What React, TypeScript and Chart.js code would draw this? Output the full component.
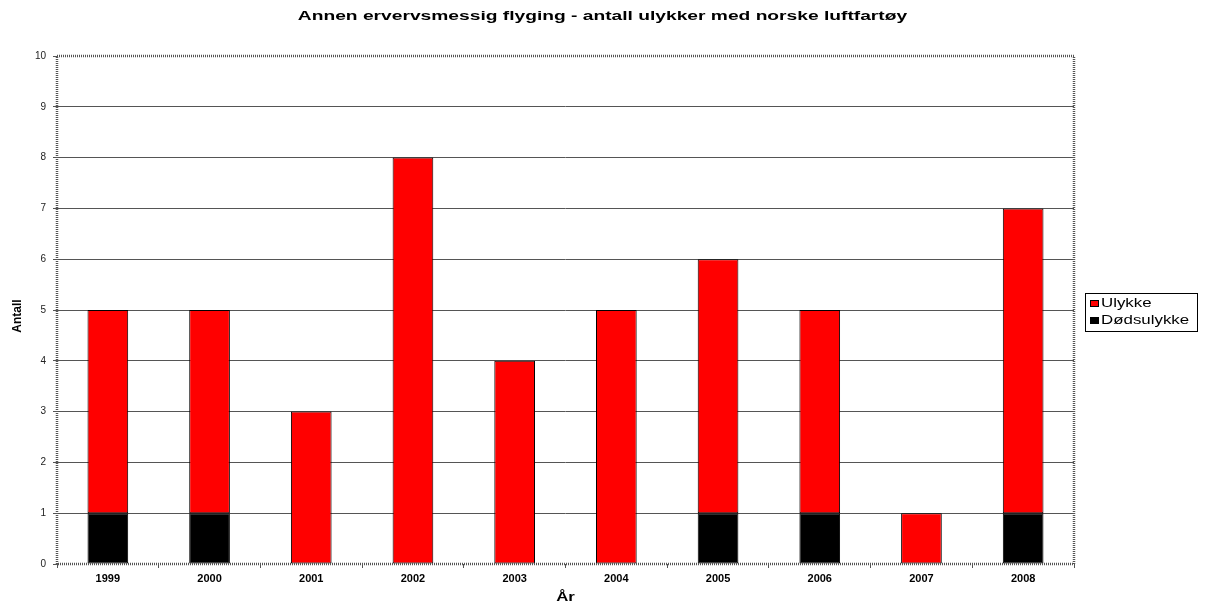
import React, { useEffect, useRef } from "react";
import { Chart, registerables } from "chart.js";

Chart.register(...registerables);

// Accident counts per year, Norwegian aircraft, other commercial flying
const years = ["1999", "2000", "2001", "2002", "2003", "2004", "2005", "2006", "2007", "2008"];
const ulykke = [4, 4, 3, 8, 4, 5, 5, 4, 1, 6];
const dodsulykke = [1, 1, 0, 0, 0, 0, 1, 1, 0, 1];
const yTicks = [0, 1, 2, 3, 4, 5, 6, 7, 8, 9, 10];

const chartTitle = "Annen ervervsmessig flyging - antall ulykker med norske luftfartøy";
const xTitle = "År";
const yTitle = "Antall";

const FONT = "'Liberation Sans', Arial, sans-serif";

// Draw text with a horizontal stretch factor
function stretchedText(
  ctx: CanvasRenderingContext2D,
  text: string,
  x: number,
  y: number,
  sx: number,
  font: string,
  align: CanvasTextAlign
) {
  ctx.save();
  ctx.font = font;
  ctx.fillStyle = "#000";
  ctx.textAlign = align;
  ctx.textBaseline = "middle";
  ctx.translate(x, y);
  ctx.scale(sx, 1);
  ctx.fillText(text, 0, 0);
  ctx.restore();
}

const decorPlugin = {
  id: "decor",
  afterDatasetsDraw(chart: any) {
    const { ctx, chartArea } = chart;
    const { left, right, top, bottom } = chartArea;
    // dotted frame around the plot area
    ctx.save();
    ctx.strokeStyle = "#555";
    ctx.lineWidth = 2.5;
    ctx.setLineDash([1, 1]);
    ctx.strokeRect(left, top, right - left, bottom - top);
    ctx.restore();
  },
  afterDraw(chart: any) {
    const { ctx, chartArea } = chart;
    const { left, right, top, bottom } = chartArea;

    // chart title
    stretchedText(ctx, chartTitle, chart.width / 2, 17, 1.6, `bold 12px ${FONT}`, "center");

    // axis titles
    stretchedText(ctx, xTitle, (left + right) / 2, 598, 1.4, `bold 12px ${FONT}`, "center");
    ctx.save();
    ctx.translate(18, (top + bottom) / 2 + 6);
    ctx.rotate(-Math.PI / 2);
    ctx.font = `bold 12px ${FONT}`;
    ctx.fillStyle = "#000";
    ctx.textAlign = "center";
    ctx.textBaseline = "middle";
    ctx.fillText(yTitle, 0, 0);
    ctx.restore();

    // legend (topmost stack segment listed first)
    const bx = 1085;
    const by = 293;
    const bw = 112;
    const bh = 38;
    ctx.save();
    ctx.fillStyle = "#fff";
    ctx.fillRect(bx, by, bw, bh);
    ctx.strokeStyle = "#000";
    ctx.lineWidth = 1;
    ctx.strokeRect(bx + 0.5, by + 0.5, bw, bh);
    ctx.restore();
    const items = chart.data.datasets.slice().reverse();
    items.forEach((ds: any, i: number) => {
      const cy = by + 10.5 + i * 17;
      ctx.save();
      ctx.fillStyle = ds.backgroundColor;
      ctx.fillRect(1090, cy - 3.5, 9, 7);
      ctx.strokeStyle = "#000";
      ctx.lineWidth = 1;
      ctx.strokeRect(1090.5, cy - 3, 8, 6);
      ctx.restore();
      stretchedText(ctx, ds.label, 1101, cy + 0.5, 1.35, `12.5px ${FONT}`, "left");
    });
  },
};

export default function App() {
  const ref = useRef<HTMLCanvasElement | null>(null);

  useEffect(() => {
    if (!ref.current) return;
    const chart = new Chart(ref.current, {
      type: "bar",
      data: {
        labels: years,
        datasets: [
          {
            label: "Dødsulykke",
            data: dodsulykke,
            backgroundColor: "#000000",
            borderColor: "#000000",
            borderWidth: 1,
            borderSkipped: false,
          },
          {
            label: "Ulykke",
            data: ulykke,
            backgroundColor: "#ff0000",
            borderColor: "#000000",
            borderWidth: 1,
            borderSkipped: false,
          },
        ],
      },
      options: {
        responsive: false,
        animation: false,
        devicePixelRatio: 1,
        layout: { padding: { left: 0, right: 131, top: 56, bottom: 0 } },
        datasets: {
          bar: { categoryPercentage: 1, barPercentage: 0.4 },
        },
        plugins: {
          legend: { display: false },
          title: { display: false },
          tooltip: { enabled: false },
        },
        scales: {
          x: {
            stacked: true,
            border: { display: false },
            grid: {
              display: true,
              drawOnChartArea: false,
              offset: true,
              tickLength: 4,
              tickColor: "#555",
            },
            ticks: {
              color: "#000",
              padding: 4,
              font: { family: FONT, size: 11, weight: "bold" },
            },
            afterFit: (s: any) => {
              s.height = 41;
            },
          },
          y: {
            stacked: true,
            min: 0,
            max: 10,
            border: { display: false },
            grid: {
              color: (c: any) =>
                c.tick && (c.tick.value === 0 || c.tick.value === 10) ? "rgba(0,0,0,0)" : "#555",
              tickColor: "#555",
              tickLength: 4,
            },
            afterBuildTicks: (s: any) => {
              s.ticks = yTicks.map((v) => ({ value: v }));
            },
            ticks: {
              color: "#222",
              padding: 7,
              font: { family: FONT, size: 10 },
            },
            afterFit: (s: any) => {
              s.width = 57;
            },
          },
        },
      },
      plugins: [decorPlugin],
    });
    return () => chart.destroy();
  }, []);

  return (
    <div style={{ position: "absolute", left: 0, top: 0, width: 1205, height: 605, background: "#fff" }}>
      <canvas ref={ref} width={1205} height={605} />
    </div>
  );
}
